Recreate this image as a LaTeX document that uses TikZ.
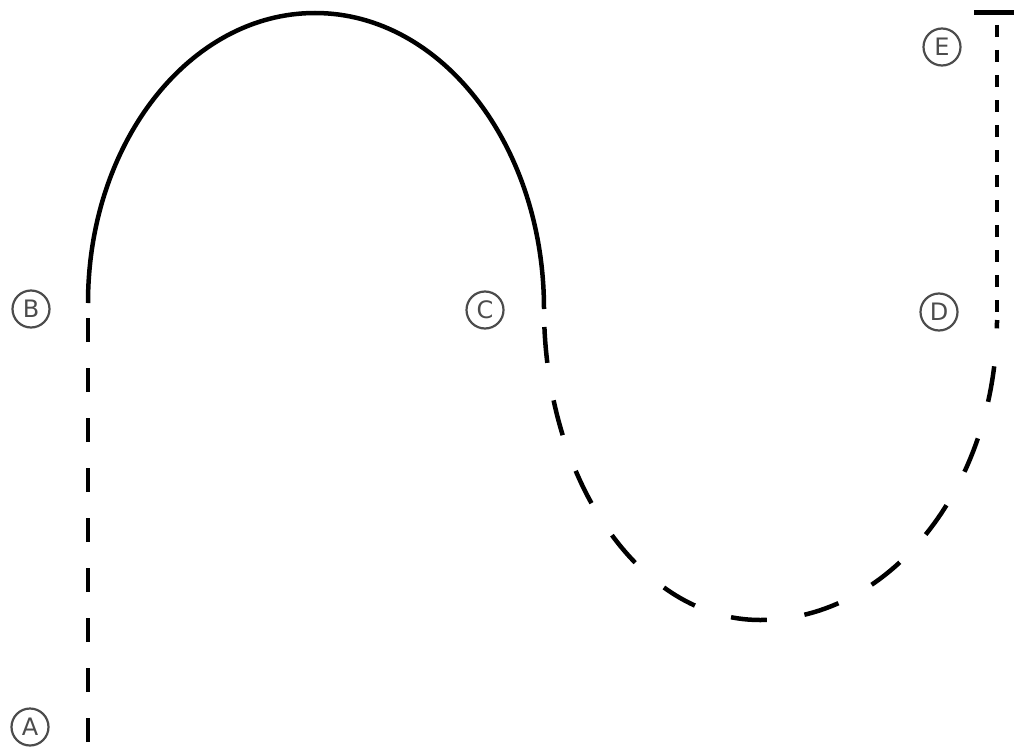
\documentclass[tikz,border=0pt]{standalone}
\usepackage{fontspec}
\newfontfamily\dejavu{DejaVu Sans}
\begin{document}
\begin{tikzpicture}[x=1pt,y=-1pt,
  curve/.style={line width=4.5pt, black},
  ldash/.style={curve, dash pattern=on 24pt off 26pt},
  cdash/.style={curve, dash pattern=on 36pt off 38pt, dash phase=55pt},
  ldot/.style={curve, dash pattern=on 12pt off 13pt, dash phase=13pt},
  lab/.style={circle, draw=black!70, line width=2.2pt, minimum size=37pt, inner sep=0pt,
    font=\dejavu\fontsize{24}{24}\selectfont, text=black!70}]
\useasboundingbox (0,0) rectangle (1014,752);
\coordinate (A) at (88,742);
\coordinate (B) at (88,303);
\coordinate (C) at (544,308);
\coordinate (D) at (997,320);
\coordinate (E) at (997,13);
\coordinate (T1) at (974,13);
\coordinate (T2) at (1014,13);
% labels
\node[lab] (la) at (30,727) {A};
\node[lab] (lb) at (31,309) {B};
\node[lab] (lc) at (485,310) {C};
\node[lab] (ld) at (939,312) {D};
\node[lab] (le) at (942,47) {E};
% A-B dashed
\draw[ldash] (A) -- (B);
% B-C solid arch
\draw[curve] (B) arc[start angle=180, end angle=90, x radius=227, y radius=-290]
  arc[start angle=90, end angle=0, x radius=229, y radius=-296];
% C-D dashed curve
\draw[cdash] (C) arc[start angle=180, end angle=270, x radius=216, y radius=-312]
  arc[start angle=270, end angle=360, x radius=237, y radius=-300];
% D-E dotted
\draw[ldot] (E) -- (D);
\draw[curve, line width=5pt] (T1) -- (T2);
\end{tikzpicture}
\end{document}
